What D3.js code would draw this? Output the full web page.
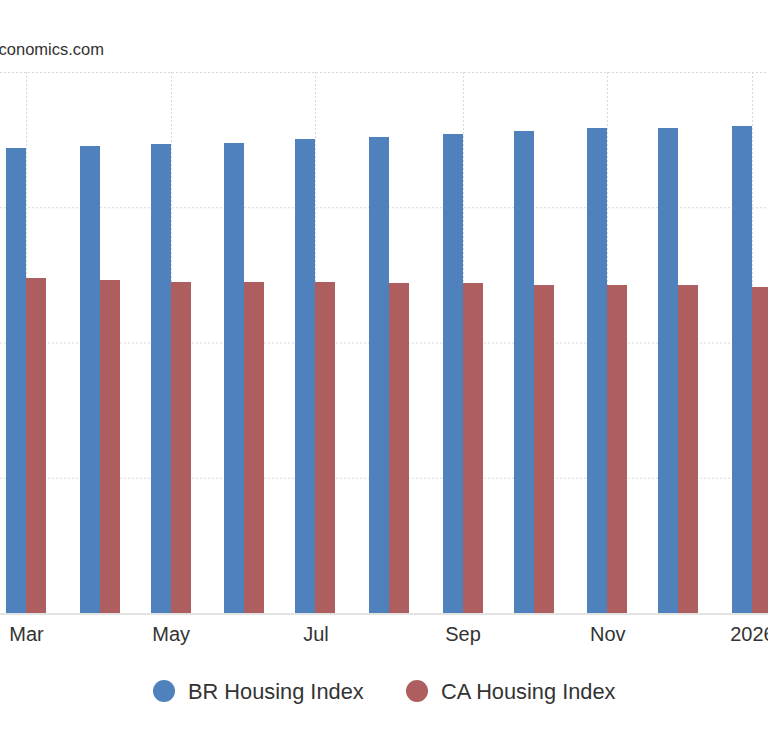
<!DOCTYPE html>
<html>
<head>
<meta charset="utf-8">
<script src="https://cdn.jsdelivr.net/npm/d3@7"></script>
<style>
    body { margin: 0; background: #fff; }
    svg { display: block; font-family: "Liberation Sans", Arial, sans-serif; }
</style>
</head>
<body>
<script>
var months = ["2025-03", "2025-04", "2025-05", "2025-06", "2025-07", "2025-08",
              "2025-09", "2025-10", "2025-11", "2025-12", "2026-01"];
var brValues = [171.9, 172.6, 173.3, 173.9, 175.2, 176.0, 177.2, 178.1, 179.3, 179.3, 180.0];
var caValues = [123.8, 123.2, 122.5, 122.5, 122.5, 122.0, 122.0, 121.3, 121.3, 121.3, 120.5];
var yTicks = [0, 50, 100, 150, 200];
var seriesNames = ["BR Housing Index", "CA Housing Index"];
var seriesColors = ["#4f81bd", "#ae5e5e"];

(function() {
    var width = 768,
        height = 750,
        top = 72,
        bottom = 613,
        barWidth = 20,
        parse = d3.timeParse("%Y-%m");

    var dates = months.map(parse);

    var svg = d3.select("body").append("svg")
                .attr("width", width)
                .attr("height", height);

    var x = d3.scaleTime()
              .domain([parse("2025-03"), parse("2026-01")])
              .range([26, 752]);

    var y = d3.scaleLinear()
              .domain([0, 200])
              .range([bottom, top]);

    // source text, partly off the left edge
    svg.append("text")
       .attr("x", 104)
       .attr("y", 55)
       .attr("text-anchor", "end")
       .style("font-size", "16.5px")
       .style("fill", "#333")
       .text("tradingeconomics.com");

    // grid
    svg.selectAll(".hgrid")
       .data(yTicks.slice(1))
       .enter().append("line")
       .attr("class", "hgrid")
       .attr("x1", 0)
       .attr("x2", width)
       .attr("y1", function(d) { return y(d) + 0.5; })
       .attr("y2", function(d) { return y(d) + 0.5; })
       .style("stroke", "#d8d8d8")
       .style("stroke-dasharray", "2,2");

    var ticks = x.ticks(d3.timeMonth.every(2));

    svg.selectAll(".vgrid")
       .data(ticks)
       .enter().append("line")
       .attr("class", "vgrid")
       .attr("x1", function(d) { return Math.round(x(d)) + 0.5; })
       .attr("x2", function(d) { return Math.round(x(d)) + 0.5; })
       .attr("y1", top)
       .attr("y2", bottom)
       .style("stroke", "#d8d8d8")
       .style("stroke-dasharray", "2,2");

    // bars, snapped to whole pixels
    var series = [brValues, caValues];
    series.forEach(function(vals, s) {
        svg.append("g")
           .selectAll("rect")
           .data(vals)
           .enter().append("rect")
           .attr("x", function(d, i) { return Math.round(x(dates[i])) + (s === 0 ? -barWidth : 0); })
           .attr("width", barWidth)
           .attr("y", function(d) { return Math.round(y(d)); })
           .attr("height", function(d) { return bottom - Math.round(y(d)); })
           .style("fill", seriesColors[s]);
    });

    // baseline
    svg.append("line")
       .attr("x1", 0)
       .attr("x2", width)
       .attr("y1", bottom + 1)
       .attr("y2", bottom + 1)
       .style("stroke", "#e3e3e3")
       .style("stroke-width", 2);

    // x axis labels
    var fmt = function(d) {
        return d.getMonth() === 0 ? d3.timeFormat("%Y")(d) : d3.timeFormat("%b")(d);
    };

    var xAxis = d3.axisBottom(x)
                  .tickValues(ticks)
                  .tickFormat(fmt)
                  .tickSize(0)
                  .tickPadding(0);

    var gx = svg.append("g")
                .attr("transform", "translate(0," + bottom + ")")
                .call(xAxis);
    gx.select(".domain").remove();
    gx.selectAll("text")
      .attr("y", 27.5)
      .attr("dy", 0)
      .style("font-size", "20px")
      .style("font-family", "Liberation Sans, Arial, sans-serif")
      .style("fill", "#333");

    // legend
    var legendX = [164, 417];
    var legend = svg.selectAll(".legendItem")
                    .data(seriesNames)
                    .enter().append("g")
                    .attr("class", "legendItem")
                    .attr("transform", function(d, i) { return "translate(" + legendX[i] + ",691)"; });

    legend.append("circle")
          .attr("r", 11)
          .style("fill", function(d, i) { return seriesColors[i]; });

    legend.append("text")
          .attr("x", 24)
          .attr("y", 8)
          .style("font-size", "21.8px")
          .style("fill", "#333")
          .text(function(d) { return d; });
})();
</script>
</body>
</html>
